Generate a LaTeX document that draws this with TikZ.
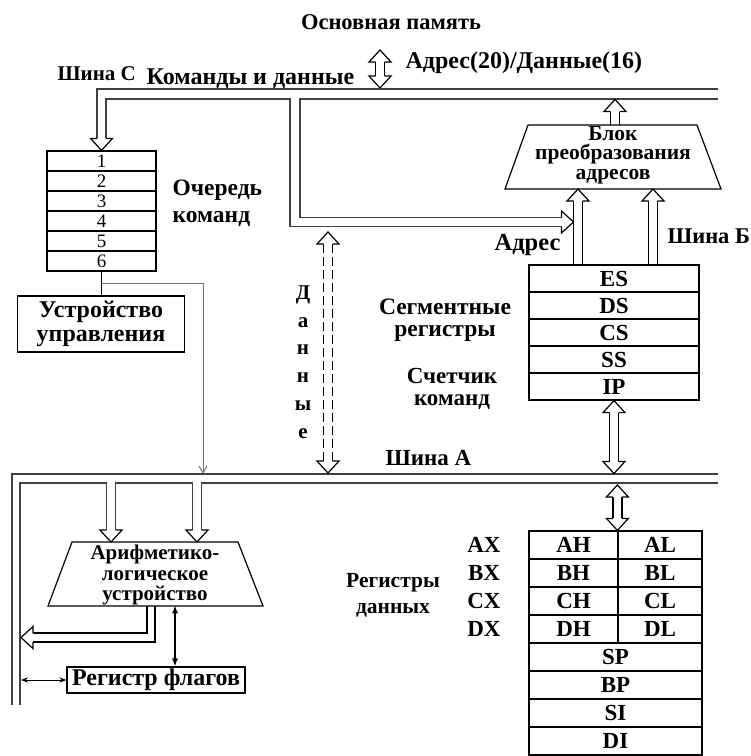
\documentclass[tikz,border=0pt]{standalone}
\usepackage{fontspec}
\setmainfont{Liberation Serif}
\usetikzlibrary{arrows.meta,calc}

% hollow arrow head: tip at #2, coming from #1
\newcommand{\hollowhead}[2]{%
  \coordinate (hb) at ($(#2)!12pt!(#1)$);
  \filldraw[fill=white] ($(hb)!4.5pt!90:(#2)$) -- ($(hb)!11pt!90:(#2)$) -- (#2)
    -- ($(hb)!11pt!-90:(#2)$) -- ($(hb)!4.5pt!-90:(#2)$);
}
% double-line arrow from #2 to #3
\newcommand{\blockarrow}[3][]{%
  \coordinate (hb) at ($(#3)!12pt!(#2)$);
  \draw[#1] ($(#2)!4.5pt!90:(#3)$) -- ($(hb)!4.5pt!90:(#3)$);
  \draw[#1] ($(#2)!4.5pt!-90:(#3)$) -- ($(hb)!4.5pt!-90:(#3)$);
  \hollowhead{#2}{#3}%
}
% double-line arrow with heads at both ends
\newcommand{\dblockarrow}[3][]{%
  \coordinate (ha) at ($(#2)!12pt!(#3)$);
  \coordinate (hb) at ($(#3)!12pt!(#2)$);
  \draw[#1] ($(ha)!4.5pt!90:(#3)$) -- ($(hb)!4.5pt!-90:(ha)$);
  \draw[#1] ($(ha)!4.5pt!-90:(#3)$) -- ($(hb)!4.5pt!90:(ha)$);
  \hollowhead{#3}{#2}\hollowhead{#2}{#3}%
}
\newcommand{\fs}[2]{\fontsize{#1}{#2}\selectfont\bfseries}

\begin{document}
\begin{tikzpicture}[x=1pt,y=-1pt,line width=1.2pt,
  lbl/.style={font=\fs{23}{24},inner sep=0pt},
  qcell/.style={draw,minimum width=109pt,minimum height=20pt,inner sep=0pt,font=\fontsize{19}{19}\selectfont},
  rcell/.style={draw,minimum height=27pt,inner sep=0pt,font=\fs{23}{23}},
  unit/.style={draw,inner sep=0pt,align=center,font=\fs{24}{24}},
  bus/.style={draw=black!75},
  ctl/.style={draw=black!55,line width=1pt}]
  \useasboundingbox (0,0) rectangle (751,756);

  % Main memory
  \node[lbl,font=\fs{22.5}{24}] (mem) at (391,22) {Основная память};
  \node[lbl,anchor=west,font=\fs{24}{24}] (addr) at (405,63) {Адрес(20)/Данные(16)};
  \coordinate (memtop) at (380,50);
  \coordinate (memend) at (380,88);
  \dblockarrow{memtop}{memend}

  % Bus C
  \node[lbl,anchor=west,font=\fs{21}{22}] (busc) at (57,74) {Шина С};
  \node[lbl,anchor=west,font=\fs{24}{24}] (cmd) at (146,79) {Команды и данные};
  \draw[bus] (718,89) -- (97,89) -- (97,139);
  \draw[bus] (106,139) -- (106,99) -- (290,99) -- (290,226.5) -- (561.5,226.5);
  \draw[bus] (718,99) -- (300,99) -- (300,217.5) -- (561.5,217.5);

  % Instruction queue
  \foreach \n in {1,...,6}
    \node[qcell] (q\n) at (101.5,141+20*\n) {\n};
  \coordinate (qin) at (101.5,130);
  \hollowhead{qin}{q1.north}
  \node[lbl,anchor=west,align=left,font=\fs{23.5}{27}] (qlbl) at (172,203) {Очередь\\команд};

  % Control unit
  \node[unit,minimum width=167pt,minimum height=56pt] (cu) at (101,324) {Устройство\\управления};
  \draw (q6.south) -- (q6.south |- cu.north);
  \coordinate (cj) at ($(q6.south)!0.5!(q6.south |- cu.north)$);
  \coordinate (ctlend) at (203,474);
  \draw[ctl,-{Straight Barb[length=7pt,width=8pt]}] (cj) -| (ctlend);

  % Data path
  \coordinate (dtop) at (328,232);
  \coordinate (dbot) at (328,473);
  \dblockarrow[dash pattern=on 9pt off 4pt]{dtop}{dbot}
  \node[lbl,align=center,font=\fs{21}{27.8}] (dlet) at (303,362) {Д\\а\\н\\н\\ы\\е};

  % Address translation block
  \coordinate (tbl) at (505,189);
  \coordinate (ttl) at (528,125);
  \coordinate (ttr) at (697,125);
  \coordinate (tbr) at (721,189);
  \draw (tbl) -- (ttl) -- (ttr) -- (tbr) -- cycle;
  \node[lbl,align=center,font=\fs{21.5}{19.5}] (atb) at (613,155) {Блок\\преобразования\\адресов};
  \coordinate (atbout) at (615,125);
  \coordinate (atbbus) at (615,99.5);
  \blockarrow{atbout}{atbbus}

  % Segment registers
  \foreach \r [count=\i] in {ES,DS,CS,SS,IP}
    \node[rcell,minimum width=170pt] (s\r) at (614,251.5+27*\i) {\r};
  \coordinate (adrs) at ([xshift=-36pt]sES.north);
  \coordinate (adrt) at (adrs |- tbl);
  \blockarrow{adrs}{adrt}
  \coordinate (bbs) at ([xshift=39pt]sES.north);
  \coordinate (bbt) at (bbs |- tbl);
  \blockarrow{bbs}{bbt}
  \coordinate (cfrom) at (540,222);
  \coordinate (cto) at (573.5,222);
  \hollowhead{cfrom}{cto}
  \node[lbl,anchor=east,font=\fs{24.5}{24}] (adrl) at (561,245) {Адрес};
  \node[lbl,anchor=west,font=\fs{22.5}{24}] (bbl) at (667,236) {Шина Б};
  \node[lbl,align=center,font=\fs{23.5}{22}] (seglbl) at (445,320) {Сегментные\\регистры};
  \node[lbl,align=center,font=\fs{23}{22}] (iplbl) at (452,389) {Счетчик\\команд};

  % Bus A
  \node[lbl,anchor=west] (busa) at (385,458) {Шина А};
  \draw[bus] (718,474) -- (12,474) -- (12,705);
  \draw[bus] (718,483) -- (201.5,483) -- (201.5,530);
  \draw[bus] (192.5,530) -- (192.5,483) -- (115.5,483) -- (115.5,530);
  \draw[bus] (106.5,530) -- (106.5,483) -- (20,483) -- (20,705);
  \coordinate (ipbus) at (sIP.south |- 0,473.5);
  \dblockarrow{sIP.south}{ipbus}

  % ALU
  \coordinate (abl) at (48,606);
  \coordinate (atl) at (72,542);
  \coordinate (atr) at (238,542);
  \coordinate (abr) at (263,606);
  \draw (abl) -- (atl) -- (atr) -- (abr) -- cycle;
  \node[lbl,align=center,font=\fs{21}{20.5}] (alu) at (155,575) {Арифметико-\\логическое\\устройство};
  \coordinate (alu1b) at (111,520);
  \coordinate (alu1) at (111,542);
  \hollowhead{alu1b}{alu1}
  \coordinate (alu2b) at (197,520);
  \coordinate (alu2) at (197,542);
  \hollowhead{alu2b}{alu2}
  \draw (147,606) -- (147,633) -- (33,633);
  \draw (155,606) -- (155,642) -- (33,642);
  \coordinate (outb) at (45,637.5);
  \coordinate (outt) at (21,637.5);
  \hollowhead{outb}{outt}

  % Flag register
  \node[unit,minimum width=178pt,minimum height=26pt] (flags) at (156,680) {Регистр флагов};
  \draw[{Latex[length=8pt,width=6pt]}-{Latex[length=8pt,width=6pt]}] ([xshift=19pt]flags.north) -- ++(0,-61);
  \draw[line width=1pt,{Stealth[length=7pt]}-{Stealth[length=7pt]}] (flags.west) -- (flags.west -| 21,0);

  % Data registers
  \foreach \h [count=\i] in {A,B,C,D} {
    \node[rcell,minimum width=89pt,minimum height=28pt] (\h H) at (573.5,517+28*\i) {\h H};
    \node[rcell,minimum width=84pt,minimum height=28pt] (\h L) at (660,517+28*\i) {\h L};
    \node[lbl] (\h X) at (484,517+28*\i) {\h X};
  }
  \foreach \r [count=\i] in {SP,BP,SI,DI}
    \node[rcell,minimum width=173pt,minimum height=28pt] (\r) at (615.5,629+28*\i) {\r};
  \coordinate (regtop) at (AL.north west);
  \coordinate (regbus) at (AL.north west |- 0,485);
  \dblockarrow{regbus}{regtop}
  \node[lbl,align=center,font=\fs{21.5}{26}] (dlbl) at (393,595) {Регистры\\данных};
\end{tikzpicture}
\end{document}
